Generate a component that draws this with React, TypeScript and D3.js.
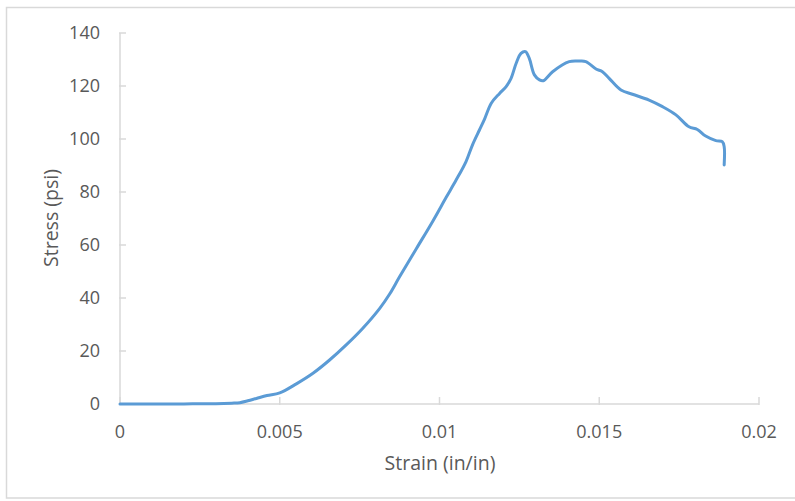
import React from "react";
import * as d3 from "d3";

const strain = [
  0, 0.001, 0.002, 0.0025, 0.003, 0.0035, 0.00375, 0.004, 0.00427, 0.0046, 0.005,
  0.00552, 0.00604, 0.00656, 0.00708, 0.0076, 0.00813, 0.00844, 0.00875, 0.00927,
  0.00979, 0.01021, 0.01052, 0.01083, 0.01104, 0.01125, 0.01141, 0.01162, 0.01188,
  0.01208, 0.01224, 0.0124, 0.01255, 0.01269, 0.01281, 0.01297, 0.01313, 0.01325,
  0.01354, 0.01406, 0.01438, 0.01458, 0.0149, 0.0151, 0.01531, 0.01568, 0.01604,
  0.01656, 0.01698, 0.0174, 0.01781, 0.01807, 0.01833, 0.01865, 0.01885, 0.01891,
  0.01891,
];
const stress = [
  0, 0, 0, 0.1, 0.1, 0.3, 0.5, 1.2, 2.1, 3.2, 4.2,
  7.6, 11.6, 16.6, 22.3, 28.6, 36.1, 41.5, 48, 58.5,
  69, 78, 84.5, 91.5, 98, 103.4, 107.5, 113.5, 117.2,
  119.7, 122.9, 128.6, 132.3, 133, 130.4, 124.2, 122.3, 122,
  125.4, 129.2, 129.4, 129.2, 126.4, 125.4, 122.9, 118.5, 116.9,
  114.7, 112.2, 109.1, 104.6, 103.6, 101.1, 99.4, 99, 97.1,
  90.2,
];
const xTicks = [0, 0.005, 0.01, 0.015, 0.02];
const xTickLabels = ["0", "0.005", "0.01", "0.015", "0.02"];
const yTicks = [0, 20, 40, 60, 80, 100, 120, 140];

const W = 795;
const H = 501;
const FONT = "'Open Sans', sans-serif";

export default function App() {
  const x = d3.scaleLinear().domain([0, 0.02]).range([120, 759]);
  const y = d3.scaleLinear().domain([0, 140]).range([404, 33]);
  const pts = strain.map((s, i) => [s, stress[i]] as [number, number]);
  const line = d3
    .line<[number, number]>()
    .x((d) => x(d[0]))
    .y((d) => y(d[1]))
    .curve(d3.curveCatmullRom.alpha(0.5));
  const axisColor = "#d9d9d9";
  const textColor = "#595959";
  return (
    <svg
      width={W}
      height={H}
      style={{ position: "absolute", left: 0, top: 0, background: "#fff" }}
    >
      <rect x={6.5} y={7.5} width={800} height={490.5} fill="#fff" stroke={axisColor} strokeWidth={1.5} />
      <line x1={x(0)} x2={x(0)} y1={y(140)} y2={y(0)} stroke={axisColor} strokeWidth={1.5} />
      <line x1={x(0)} x2={x(0.02)} y1={y(0)} y2={y(0)} stroke={axisColor} strokeWidth={1.5} />
      {yTicks.map((t) => (
        <g key={"y" + t}>
          <line x1={x(0) - 1} x2={x(0) + 6} y1={y(t)} y2={y(t)} stroke={axisColor} strokeWidth={1.5} />
          <text
            x={100}
            y={y(t)}
            dy="0.35em"
            textAnchor="end"
            fontFamily={FONT}
            fontSize={18}
            fill={textColor}
          >
            {t}
          </text>
        </g>
      ))}
      {xTicks.map((t, i) => (
        <g key={"x" + t}>
          <line x1={x(t)} x2={x(t)} y1={y(0) - 7} y2={y(0) + 1} stroke={axisColor} strokeWidth={1.5} />
          <text
            x={x(t)}
            y={432}
            dy="0.35em"
            textAnchor="middle"
            fontFamily={FONT}
            fontSize={18}
            fill={textColor}
          >
            {xTickLabels[i]}
          </text>
        </g>
      ))}
      <path d={line(pts) || ""} fill="none" stroke="#5b9bd5" strokeWidth={3} strokeLinejoin="round" strokeLinecap="round" />
      <text
        x={440}
        y={463}
        dy="0.35em"
        textAnchor="middle"
        fontFamily={FONT}
        fontSize={19.5}
        fill={textColor}
      >
        Strain (in/in)
      </text>
      <text
        transform="translate(51,218) rotate(-90)"
        dy="0.35em"
        textAnchor="middle"
        fontFamily={FONT}
        fontSize={19.5}
        fill={textColor}
      >
        Stress (psi)
      </text>
    </svg>
  );
}
